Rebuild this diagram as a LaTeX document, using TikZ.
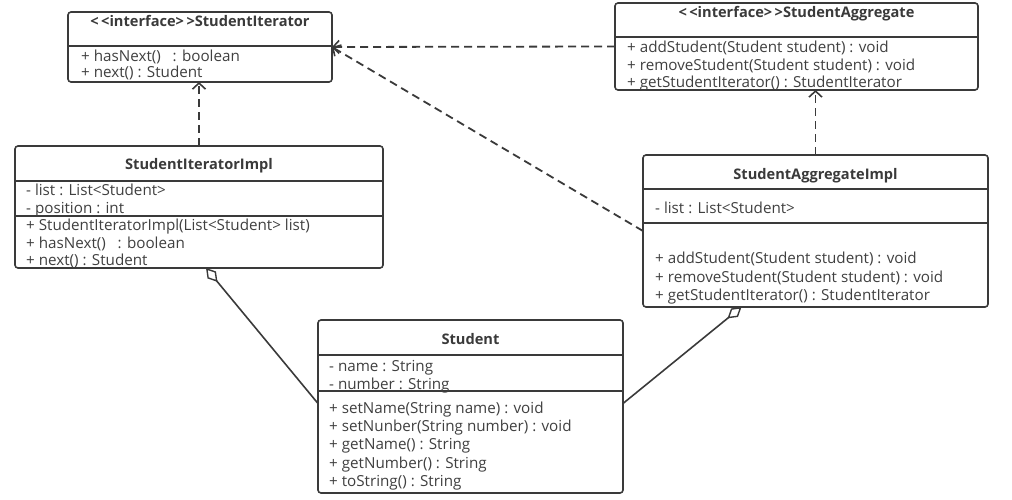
\documentclass[tikz,border=0pt]{standalone}
\usepackage{fontspec}
\setmainfont{Open Sans}
\usetikzlibrary{arrows.meta}
\definecolor{ln}{HTML}{3A3A3A}
\definecolor{tx}{HTML}{404040}
\begin{document}
\begin{tikzpicture}[x=1pt,y=-1pt,
  box/.style={draw=ln, line width=1.6pt, rounded corners=3pt, inner sep=0pt, outer sep=0pt, fill=white},
  sep/.style={draw=ln, line width=1.6pt},
  txt/.style={anchor=west, inner sep=0pt, text=tx, font=\fontsize{15.2}{18}\selectfont, text height=12.5pt, text depth=2.5pt},
  hdr/.style={inner sep=0pt, text=ln, font=\fontsize{14.6}{18}\selectfont\bfseries, text height=12.5pt, text depth=2.5pt},
  dep/.style={draw=ln, line width=1.8pt, dash pattern=on 8pt off 5pt, -{Straight Barb[length=6pt,width=13pt,line width=1.6pt]}},
  agg/.style={draw=ln, line width=1.6pt, {Diamond[open,fill=white,length=18pt,width=11pt,line width=1.4pt]}-}
]
\useasboundingbox (0,0) rectangle (1012,500);

% boxes
\node[box, minimum width=264pt, minimum height=70pt] (A) at (200,47) {};
\node[box, minimum width=363pt, minimum height=87pt] (B) at (796.5,46.5) {};
\node[box, minimum width=368pt, minimum height=122pt] (C) at (199,207) {};
\node[box, minimum width=345pt, minimum height=152pt] (D) at (815.5,231) {};
\node[box, minimum width=305pt, minimum height=173pt] (E) at (470.5,406.5) {};

% dividers
\draw[sep] (A.west |- 0,46) -- (A.east |- 0,46);
\draw[sep] (B.west |- 0,37) -- (B.east |- 0,37);
\draw[sep] (C.west |- 0,181) -- (C.east |- 0,181);
\draw[sep] (C.west |- 0,216) -- (C.east |- 0,216);
\draw[sep] (D.west |- 0,189) -- (D.east |- 0,189);
\draw[sep] (D.west |- 0,223) -- (D.east |- 0,223);
\draw[sep] (E.west |- 0,355) -- (E.east |- 0,355);
\draw[sep] (E.west |- 0,391) -- (E.east |- 0,391);

% texts A
\node[hdr] (Ah) at (200,22) {{<}\,{<}interface{>}\,{>}StudentIterator};
\node[txt] (A1) at (81,57) {+ hasNext()\ \ \ : boolean};
\node[txt] (A2) at (81,73) {+ next() : Student};
% texts B
\node[hdr] (Bh) at (796.5,13) {{<}\,{<}interface{>}\,{>}StudentAggregate};
\node[txt] (B1) at (627,48) {+ addStudent(Student student) : void};
\node[txt] (B2) at (627,66) {+ removeStudent(Student student) : void};
\node[txt] (B3) at (627,83) {+ getStudentIterator() : StudentIterator};
% texts C
\node[hdr] (Ch) at (199,164) {StudentIteratorImpl};
\node[txt] (C1) at (26,190) {- list : List<Student>};
\node[txt] (C2) at (26,208) {- position : int};
\node[txt] (C3) at (26,225) {+ StudentIteratorImpl(List<Student> list)};
\node[txt] (C4) at (26,243) {+ hasNext()\ \ \ : boolean};
\node[txt] (C5) at (26,260) {+ next() : Student};
% texts D
\node[hdr] (Dh) at (815.5,174) {StudentAggregateImpl};
\node[txt] (D1) at (655,208) {- list : List<Student>};
\node[txt] (D2) at (655,258) {+ addStudent(Student student) : void};
\node[txt] (D3) at (655,277) {+ removeStudent(Student student) : void};
\node[txt] (D4) at (655,295) {+ getStudentIterator() : StudentIterator};
% texts E
\node[hdr] (Eh) at (470.5,339) {Student};
\node[txt] (E1) at (329,366) {- name : String};
\node[txt] (E2) at (329,384) {- number : String};
\node[txt] (E3) at (329,408) {+ setName(String name) : void};
\node[txt] (E4) at (329,426) {+ setNunber(String number) : void};
\node[txt] (E5) at (329,444) {+ getName() : String};
\node[txt] (E6) at (329,463) {+ getNumber() : String};
\node[txt] (E7) at (329,481) {+ toString() : String};

% connectors
\draw[dep] (B.west) -- (A.east);
\draw[dep] (D.west) -- (A.east);
\draw[dep] (C.north) -- (C.north |- A.south);
\draw[dep] (D.north) -- (D.north |- B.south);
\draw[agg] ([xshift=7pt]C.south) -- ([yshift=3pt]E.west);
\draw[agg] ([xshift=-74pt]D.south) -- ([yshift=3pt]E.east);
\end{tikzpicture}
\end{document}
